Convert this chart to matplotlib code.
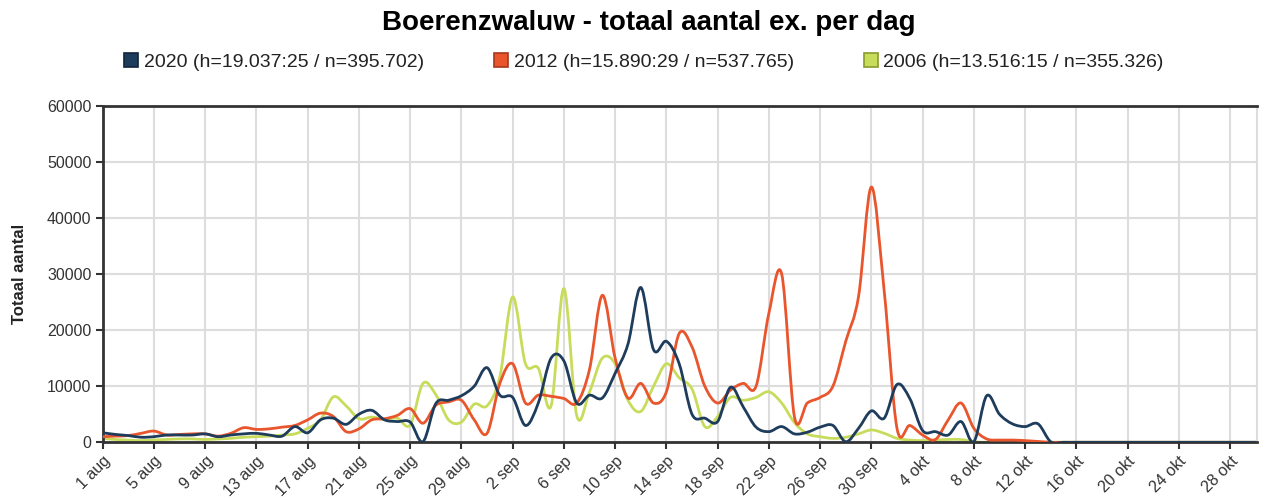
import matplotlib.pyplot as plt
import numpy as np
from matplotlib.path import Path
from matplotlib.patches import PathPatch
from matplotlib.lines import Line2D

plt.rcParams['font.family'] = ['Liberation Sans', 'DejaVu Sans']

# days since 1 aug (0 .. 90)
tick_labels = ['1 aug', '5 aug', '9 aug', '13 aug', '17 aug', '21 aug', '25 aug', '29 aug',
               '2 sep', '6 sep', '10 sep', '14 sep', '18 sep', '22 sep', '26 sep', '30 sep',
               '4 okt', '8 okt', '12 okt', '16 okt', '20 okt', '24 okt', '28 okt']

series_labels = ['2020 (h=19.037:25 / n=395.702)',
                 '2012 (h=15.890:29 / n=537.765)',
                 '2006 (h=13.516:15 / n=355.326)']

y2020 = [1700, 1400, 1200, 900, 1000, 1300, 1300, 1300, 1500, 1000,
         1300, 1500, 1600, 1300, 1100, 2800, 1700, 4000, 4300, 3200,
         5000, 5700, 4000, 3700, 3600, 100, 6900, 7500, 8300, 10000,
         13300, 8400, 8000, 3000, 7000, 15000, 14500, 7000, 8400, 7900,
         12300, 17500, 27600, 16500, 18000, 14000, 5000, 4300, 3700, 9800,
         6300, 2700, 1900, 2800, 1500, 1800, 2700, 3000, 100, 2500,
         5600, 4300, 10300, 7800, 2100, 1900, 1300, 3700, 100, 8300,
         5000, 3300, 2800, 3300, 100] + [0] * 16

y2012 = [1000, 1100, 1200, 1600, 2000, 1300, 1400, 1500, 1500, 1100,
         1600, 2600, 2300, 2400, 2700, 3000, 4000, 5200, 4600, 1900,
         2400, 4000, 4200, 4800, 6000, 3400, 6600, 7200, 7500, 4000,
         1600, 10500, 14000, 7000, 8400, 8200, 7800, 7000, 13000, 26200,
         15000, 7900, 10500, 7000, 9000, 19400, 17000, 10000, 7000, 9300,
         10500, 10000, 23000, 30000, 4500, 7000, 8000, 10000, 18000, 26000,
         45500, 27000, 2500, 3000, 1300, 500, 4000, 7000, 2500, 600,
         400, 400, 300, 150, 0] + [0] * 16

y2006 = [700, 500, 400, 300, 400, 500, 600, 600, 500, 600,
         700, 900, 1000, 1100, 1300, 1500, 2500, 4000, 8100, 6500,
         4200, 4500, 4100, 4300, 3100, 10500, 8500, 4000, 3600, 6800,
         6500, 11700, 25900, 14000, 13200, 6500, 27400, 4800, 9000, 15000,
         14000, 7500, 5500, 10000, 14000, 11500, 9500, 2800, 4600, 8000,
         7500, 8000, 9000, 7000, 3500, 1500, 1000, 700, 900, 1500,
         2200, 1600, 700, 400, 300, 400, 500, 500, 100, 0,
         0, 0, 0, 0, 0] + [0] * 16

colors = ['#1e3c5c', '#e9552c', '#c8dc5c']
edge_colors = ['#10243a', '#a8381c', '#8a9a2c']


def spline_patch(x, y, color, lw=2.0, z=2):
    # smooth curve through the daily points (cubic bezier, catmull-rom style)
    pts = np.column_stack([x, y]).astype(float)
    n = len(pts)
    verts = [pts[0]]
    codes = [Path.MOVETO]
    for i in range(n - 1):
        p0 = pts[i - 1] if i > 0 else pts[i]
        p1 = pts[i]
        p2 = pts[i + 1]
        p3 = pts[i + 2] if i + 2 < n else pts[i + 1]
        verts += [p1 + (p2 - p0) / 6.0, p2 - (p3 - p1) / 6.0, p2]
        codes += [Path.CURVE4] * 3
    return PathPatch(Path(verts, codes), facecolor='none', edgecolor=color,
                     linewidth=lw, zorder=z, capstyle='round', joinstyle='round')


fig = plt.figure(figsize=(12.68, 5.0), dpi=100)
ax = fig.add_axes([0.081, 0.1154, 0.9103, 0.6732])

days = np.arange(len(y2020))
for yy, c, z in [(y2006, colors[2], 2), (y2012, colors[1], 3), (y2020, colors[0], 4)]:
    ax.add_patch(spline_patch(days, yy, c, z=z))

ax.set_xlim(0, 90.1)
ax.set_ylim(0, 60000)

ax.set_xticks(np.arange(0, 89, 4))
ax.set_xticklabels(tick_labels, rotation=45, ha='right', rotation_mode='anchor',
                   fontsize=11.5, color='#333333')
ax.set_yticks(np.arange(0, 60001, 10000))
ax.set_yticklabels([str(v) for v in range(0, 60001, 10000)], fontsize=11.5, color='#333333')
ax.tick_params(axis='both', length=5, width=1.5, color='#333333', pad=3)

ax.grid(color='#dddddd', linewidth=1.5)
ax.set_axisbelow(True)
for s in ['left', 'bottom', 'top']:
    ax.spines[s].set_color('#333333')
    ax.spines[s].set_linewidth(2)
ax.spines['right'].set_color('#dddddd')
ax.spines['right'].set_linewidth(1.5)

ax.set_ylabel('Totaal aantal', fontsize=12, fontweight='bold', color='#222222')
ax.yaxis.set_label_coords(-0.066, 0.5)

fig.text(0.512, 0.955, 'Boerenzwaluw - totaal aantal ex. per dag',
         fontsize=20, fontweight='bold', ha='center', va='center')

handles = [Line2D([], [], marker='s', linestyle='none', markersize=10,
                  markerfacecolor=c, markeredgecolor=e, markeredgewidth=1.2)
           for c, e in zip(colors, edge_colors)]
fig.legend(handles, series_labels, loc='center', bbox_to_anchor=(0.508, 0.876),
           ncol=3, frameon=False, fontsize=14, handlelength=0.7, handletextpad=0.3,
           columnspacing=3.6, labelcolor='#222222')

fig.savefig('out.png', dpi=100)
